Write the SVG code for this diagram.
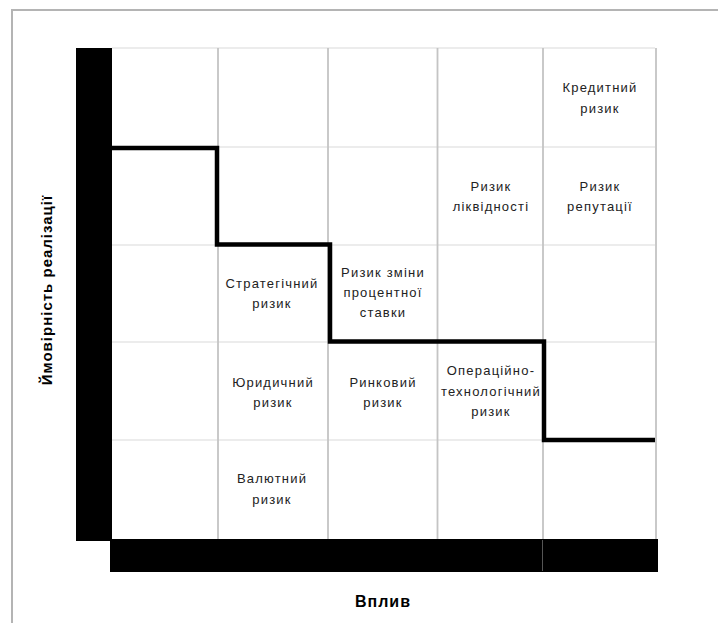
<svg xmlns="http://www.w3.org/2000/svg" width="718" height="623" viewBox="0 0 718 623">
<style>
.frame{stroke:#b4b4b4;stroke-width:2;fill:none}
.hl{stroke:#e6e6e6;stroke-width:1.5;fill:none}
.vl{stroke:#c4c4c4;stroke-width:1.8;fill:none}
.bar{fill:#000}
.step{stroke:#000;stroke-width:4.5;fill:none;stroke-linejoin:miter}
.t{font-family:"Liberation Sans",Arial,sans-serif;font-size:13px;letter-spacing:1.2px;fill:#222;text-anchor:middle}
.ax{font-family:"Liberation Sans",Arial,sans-serif;font-size:15px;font-weight:bold;letter-spacing:1px;fill:#000;text-anchor:middle}
</style>
<rect width="718" height="623" fill="#fff"/>
<path class="frame" d="M718 10 H12 V623"/>
<g id="grid">
<path class="hl" d="M112 48 H655 M112 147 H655 M112 245 H655 M112 342 H655 M112 440 H655"/>
<path class="vl" d="M218 48 V540 M328 48 V540 M437.5 48 V540 M543 48 V540 M656 48 V540"/>
</g>
<g id="axes">
<rect class="bar" x="76" y="48" width="36" height="493"/>
<rect class="bar" x="110" y="539" width="548" height="33"/>
<line x1="542.5" y1="540" x2="542.5" y2="571" stroke="#555" stroke-width="1"/>
</g>
<g id="connectors">
<path class="step" d="M112 148 H217 V244.5 H330 V341.5 H544 V440 H655"/>
</g>
<g id="n-credit"><text class="t" x="600" y="92">Кредитний</text><text class="t" x="600" y="113">ризик</text></g>
<g id="n-liquidity"><text class="t" x="491" y="191">Ризик</text><text class="t" x="491" y="211">ліквідності</text></g>
<g id="n-reputation"><text class="t" x="600" y="191">Ризик</text><text class="t" x="600" y="211">репутації</text></g>
<g id="n-strategic"><text class="t" x="272" y="288">Стратегічний</text><text class="t" x="272" y="308">ризик</text></g>
<g id="n-interest"><text class="t" x="383" y="277">Ризик зміни</text><text class="t" x="383" y="297">процентної</text><text class="t" x="383" y="317">ставки</text></g>
<g id="n-legal"><text class="t" x="273" y="387">Юридичний</text><text class="t" x="273" y="407">ризик</text></g>
<g id="n-market"><text class="t" x="383" y="387">Ринковий</text><text class="t" x="383" y="407">ризик</text></g>
<g id="n-operational"><text class="t" x="491" y="375">Операційно-</text><text class="t" x="491" y="396">технологічний</text><text class="t" x="491" y="416">ризик</text></g>
<g id="n-currency"><text class="t" x="272" y="483">Валютний</text><text class="t" x="272" y="504">ризик</text></g>
<g id="labels">
<text class="ax" x="383" y="607" style="font-size:16px">Вплив</text>
<text class="ax" transform="translate(52 290) rotate(-90)">Ймовірність реалізації</text>
</g>
</svg>
